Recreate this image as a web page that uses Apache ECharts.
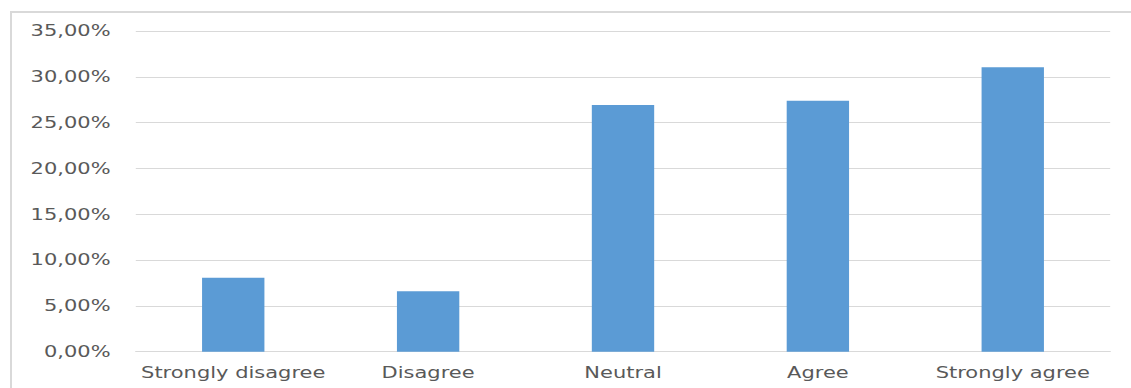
<!DOCTYPE html>
<html>
<head>
<meta charset="utf-8">
<script src="https://cdn.jsdelivr.net/npm/echarts@6/dist/echarts.min.js"></script>
<style>
  html, body { margin: 0; padding: 0; background: #fff; overflow: hidden; }
  body { width: 1131px; height: 388px; position: relative; }
  #frame { position: absolute; left: 10px; top: 11px; width: 1200px; height: 400px;
           border-left: 2px solid #d9d9d9; border-top: 2px solid #d9d9d9; box-sizing: border-box; }
  #chart { position: absolute; left: 0; top: 0; width: 808px; height: 388px;
           transform: scaleX(1.4); transform-origin: 0 0; }
</style>
</head>
<body>
<div id="frame"></div>
<div id="chart"></div>
<script>
const categories = ['Strongly disagree', 'Disagree', 'Neutral', 'Agree', 'Strongly agree'];
const percentages = [8.08, 6.59, 26.92, 27.39, 31.04];
const yTicks = [0, 5, 10, 15, 20, 25, 30, 35];

const chart = echarts.init(document.getElementById('chart'), null, { renderer: 'svg' });
chart.setOption({
  animation: false,
  grid: { left: 97, right: 15, top: 31, bottom: 36.3, containLabel: false },
  xAxis: {
    type: 'category',
    data: categories,
    axisLine: { show: true, lineStyle: { color: '#d9d9d9', width: 1 } },
    axisTick: { show: false },
    axisLabel: { interval: 0, hideOverlap: false, color: '#595959', fontFamily: 'DejaVu Sans', fontSize: 15, margin: 13 }
  },
  yAxis: {
    type: 'value',
    min: yTicks[0],
    max: yTicks[yTicks.length - 1],
    interval: 5,
    axisLine: { show: false },
    axisTick: { show: false },
    splitLine: { lineStyle: { color: '#d9d9d9', width: 1 } },
    axisLabel: {
      color: '#595959', fontFamily: 'DejaVu Sans', fontSize: 15, margin: 18,
      formatter: v => v.toFixed(2).replace('.', ',') + '%'
    }
  },
  series: [{
    type: 'bar',
    data: percentages,
    barWidth: '32%',
    itemStyle: { color: '#5b9bd5' }
  }]
});
</script>
</body>
</html>
